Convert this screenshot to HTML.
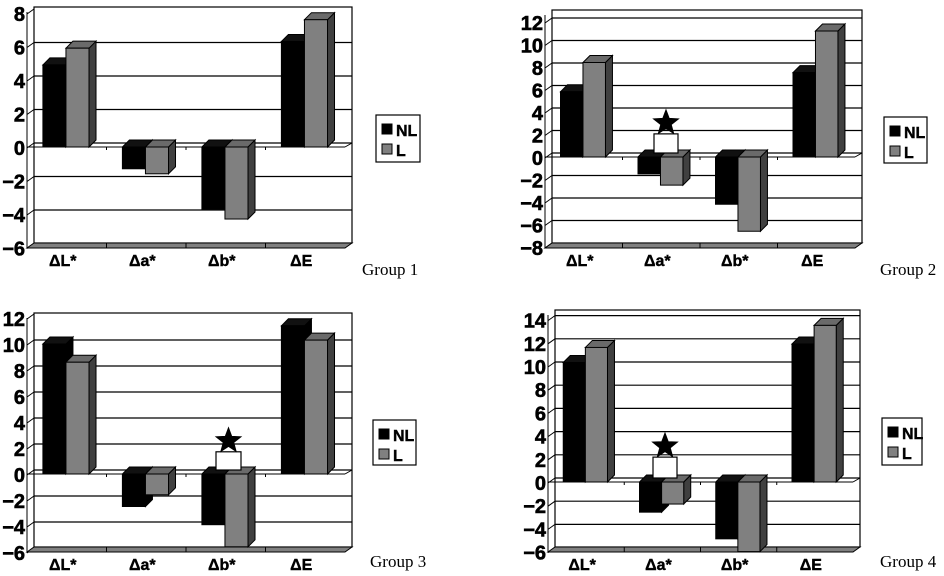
<!DOCTYPE html>
<html><head><meta charset="utf-8"><style>
html,body{margin:0;padding:0;background:#fff;}
svg{display:block;}
.t{font-family:"Liberation Sans Narrow","Liberation Sans",sans-serif;font-weight:bold;}
.g{font-family:"Liberation Serif",serif;font-size:17px;}
</style></head><body>
<svg id="s" width="944" height="576" viewBox="0 0 944 576" xmlns="http://www.w3.org/2000/svg"></svg>
<script>
const charts=[
 {bx0:34,bx1:352,top:7,floor:243,zero:143,scale:16.75,ticks:[8,6,4,2,0,-2,-4,-6],
  v:[[4.9,5.9],[-1.3,-1.6],[-3.7,-4.3],[6.3,7.6]],star:null,leg:[376,115,44,47],gl:[362,275,"Group 1"]},
 {bx0:552,bx1:862,top:10,floor:243,zero:153,scale:11.25,ticks:[12,10,8,6,4,2,0,-2,-4,-6,-8],
  v:[[5.8,8.4],[-1.5,-2.5],[-4.2,-6.6],[7.5,11.2]],star:[654,24,1.7],leg:[884,117,43,46],gl:[880,275,"Group 2"]},
 {bx0:34,bx1:352,top:313,floor:547,zero:470,scale:13.0,ticks:[12,10,8,6,4,2,0,-2,-4,-6],
  v:[[10.0,8.6],[-2.5,-1.6],[-3.9,-5.6],[11.4,10.3]],star:[216,25,1.4],leg:[373,420,43,45],gl:[370,567,"Group 3"]},
 {bx0:555,bx1:860,top:310,floor:547,zero:478,scale:11.6,ticks:[14,12,10,8,6,4,2,0,-2,-4,-6],
  v:[[10.3,11.6],[-2.6,-1.9],[-4.9,-6.0],[11.9,13.5]],star:[653,24,1.8],leg:[882,418,40,47],gl:[880,567,"Group 4"]}
];
const labs=["ΔL*","Δa*","Δb*","ΔE"];
let h="";
const D=7,DY=5;
function poly(p,f){return `<polygon points="${p.map(q=>q.join(',')).join(' ')}" fill="${f}" stroke="#000" stroke-width="1"/>`;}
function starPts(cx,cy,R,r){let p=[];for(let i=0;i<10;i++){let a=-Math.PI/2+i*Math.PI/5,rr=i%2?r:R;p.push([ (cx+rr*Math.cos(a)).toFixed(1),(cy+rr*Math.sin(a)).toFixed(1)]);}return p;}
for(const c of charts){
 const Y=v=>c.zero-v*c.scale;
 h+=`<rect x="${c.bx0}" y="${c.top}" width="${c.bx1-c.bx0}" height="${c.floor-c.top}" fill="#fff" stroke="#000" stroke-width="1.2"/>`;
 for(const t of c.ticks){const y=Y(t);if(y>c.top+2&&y<c.floor-2)h+=`<line x1="${c.bx0}" x2="${c.bx1}" y1="${y}" y2="${y}" stroke="#000" stroke-width="1.2"/>`;
  h+=`<line x1="${c.bx0-D}" y1="${y+DY}" x2="${c.bx0}" y2="${y}" stroke="#000" stroke-width="1"/>`;
  h+=`<text class="t" x="${c.bx0-9}" y="${y+DY+7}" font-size="20" text-anchor="end" stroke="#000" stroke-width="0.6">${t<0?'−'+(-t):t}</text>`;}
 h+=`<line x1="${c.bx0-D}" y1="${c.top+DY}" x2="${c.bx0-D}" y2="${c.floor+DY}" stroke="#000"/>`;
 h+=poly([[c.bx0,c.floor],[c.bx1,c.floor],[c.bx1-D,c.floor+DY],[c.bx0-D,c.floor+DY]],"#808080");
 const fx0=c.bx0-D,fx1=c.bx1-D,w=(fx1-fx0)/4;
 for(let k=1;k<4;k++){h+=`<line x1="${fx0+k*w}" x2="${fx0+k*w}" y1="${c.floor}" y2="${c.floor+DY}" stroke="#000"/>`;}
 const zf=c.zero+DY-1;
 h+=`<line x1="${fx0}" x2="${fx1}" y1="${zf}" y2="${zf}" stroke="#000" stroke-width="1"/><line x1="${fx1}" y1="${zf}" x2="${c.bx1}" y2="${c.zero}" stroke="#000"/>`;
 for(let k=1;k<4;k++)h+=`<line x1="${fx0+k*w}" x2="${fx0+k*w}" y1="${zf}" y2="${zf+3}" stroke="#000"/>`;
 for(let k=0;k<4;k++){
  const cx=fx0+k*w;
  h+=`<text class="t" x="${cx+w/2-4}" y="${c.floor+23}" font-size="16" text-anchor="middle" stroke="#000" stroke-width="0.4">${labs[k]}</text>`;
  c.v[k].forEach((v,j)=>{
   const x0=cx+w*(0.2+0.29*j),x1=x0+w*0.29;
   let yt=Math.min(zf,zf-v*c.scale),yb=Math.max(zf,zf-v*c.scale);
   yb=Math.min(yb,c.floor+DY);
   const f=j?"#808080":"#000",tf=j?"#6a6a6a":"#111",sf=j?"#404040":"#000";
   h+=poly([[x1,yt],[x1+D,yt-D],[x1+D,yb-D],[x1,yb]],sf);
   h+=poly([[x0,yt],[x0+D,yt-D],[x1+D,yt-D],[x1,yt]],tf);
   h+=`<rect x="${x0}" y="${yt}" width="${x1-x0}" height="${yb-yt}" fill="${f}" stroke="#000"/>`;
  });
 }
 if(c.star){const [sx,sw,sv]=c.star;const by=c.zero-sv*c.scale;
  h+=`<rect x="${sx}" y="${by}" width="${sw}" height="${c.zero-by}" fill="#fff" stroke="#000" stroke-width="1.2"/>`;
  h+=poly(starPts(sx+sw/2,by-11,13,5.5),"#000");}
 const [lx,ly,lw,lh]=c.leg;
 h+=`<rect x="${lx}" y="${ly}" width="${lw}" height="${lh}" fill="#fff" stroke="#000" stroke-width="1.2"/>`;
 h+=`<rect x="${lx+6}" y="${ly+9}" width="10" height="10" fill="#000" stroke="#000"/><text class="t" x="${lx+20}" y="${ly+21}" font-size="16" stroke="#000" stroke-width="0.4">NL</text>`;
 h+=`<rect x="${lx+6}" y="${ly+29}" width="10" height="10" fill="#808080" stroke="#000"/><text class="t" x="${lx+20}" y="${ly+41}" font-size="16" stroke="#000" stroke-width="0.4">L</text>`;
 h+=`<text class="g" x="${c.gl[0]}" y="${c.gl[1]}">${c.gl[2]}</text>`;
}
document.getElementById('s').innerHTML=h;
</script>
</body></html>
